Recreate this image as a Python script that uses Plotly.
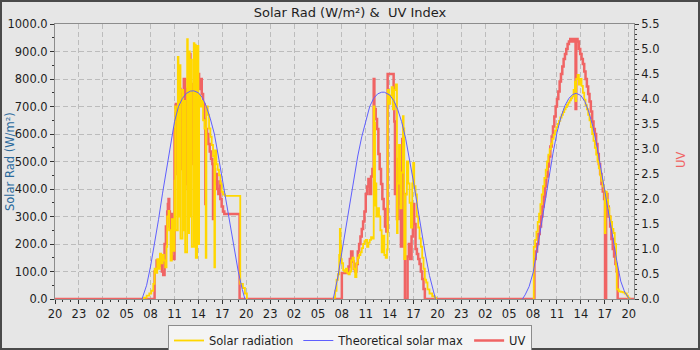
import plotly.graph_objects as go

# Calendar days covered by the chart (window runs from 20:00 the evening before)
DAYS = ["2024-09-18", "2024-09-19", "2024-09-20"]
X_START = "2024-09-17 20:00"
X_END = "2024-09-20 20:40"

# ---- Solar radiation (W/m²), change points per day ----
sr_day1_t = ["07:00", "07:10", "07:30", "07:50", "08:05", "08:20", "08:30", "08:40", "08:50", "09:00",
             "09:10", "09:20", "09:30", "09:40", "09:50", "10:00", "10:05", "10:15", "10:20", "10:30",
             "10:40", "10:50", "11:00", "11:05", "11:10", "11:25", "11:30", "11:40", "11:45", "12:00",
             "12:05", "12:15", "12:20", "12:35", "12:40", "12:50", "12:55", "13:05", "13:10", "13:25",
             "13:30", "13:35", "13:40", "13:50", "14:00", "14:05", "14:15", "14:25", "14:35", "14:45",
             "14:55", "15:00", "15:10", "15:20", "15:30", "15:40", "15:50", "16:00", "16:05", "16:15",
             "16:25", "16:35", "16:45", "16:55", "17:05", "17:20", "19:15", "19:35", "19:50", "20:05"]
sr_day1_v = [0, 5, 12, 20, 30, 55, 110, 95, 145, 110,
             165, 130, 160, 140, 115, 190, 300, 320, 250, 140,
             290, 175, 430, 700, 250, 880, 300, 850, 220, 760,
             250, 720, 170, 945, 240, 900, 300, 870, 190, 930,
             190, 925, 150, 920, 200, 740, 700, 720, 650, 620,
             150, 700, 670, 620, 590, 560, 520, 115, 540, 490,
             470, 450, 420, 390, 380, 375, 55, 40, 20, 0]

sr_day2_t = ["06:50", "06:58", "07:10", "07:20", "07:30", "07:40", "07:45", "07:50", "07:55", "08:00", "08:10",
             "08:20", "08:30", "08:40", "08:50", "09:00", "09:10", "09:20", "09:30", "09:40", "09:50",
             "10:00", "10:10", "10:20", "10:30", "10:40", "10:50", "11:00", "11:10", "11:20", "11:30",
             "11:40", "11:50", "12:00", "12:05", "12:10", "12:15", "12:20", "12:30", "12:40", "12:50",
             "13:00", "13:10", "13:20", "13:30", "13:40", "13:45", "13:55", "14:05", "14:15", "14:25",
             "14:35", "14:45", "14:55", "15:00", "15:10", "15:20", "15:30", "15:40", "15:45", "15:50",
             "16:00", "16:10", "16:20", "16:30", "16:40", "16:50", "16:57", "17:05", "17:15", "17:25",
             "17:35", "17:45", "17:55", "18:05", "18:15", "18:25", "18:35", "18:45", "19:00", "19:20",
             "19:40", "19:50"]
sr_day2_v = [0, 5, 30, 70, 90, 160, 255, 195, 145, 130, 105,
             100, 110, 95, 90, 100, 140, 150, 110, 80, 130,
             150, 160, 170, 185, 200, 210, 215, 190, 205, 215,
             225, 220, 700, 640, 340, 420, 300, 330, 300, 250,
             170, 230, 160, 150, 180, 760, 710, 740, 770, 690,
             760, 780, 240, 420, 560, 330, 460, 665, 620, 145,
             380, 500, 420, 350, 260, 420, 495, 410, 380, 300,
             260, 220, 190, 150, 110, 70, 60, 35, 20, 10,
             5, 0]

sr_day3_t = ["08:00", "08:05", "08:15", "08:25", "08:35", "08:45", "08:55", "09:05", "09:15", "09:25", "09:35",
             "09:45", "09:55", "10:05", "10:15", "10:25", "10:35", "10:45", "10:55", "11:05", "11:15",
             "11:25", "11:35", "11:45", "11:55", "12:05", "12:15", "12:25", "12:35", "12:45", "12:55",
             "13:05", "13:15", "13:20", "13:25", "13:35", "13:45", "13:55", "14:05", "14:15", "14:25",
             "14:35", "14:45", "14:55", "15:05", "15:15", "15:25", "15:35", "15:45", "15:55", "16:05",
             "16:15", "16:25", "16:35", "16:45", "16:55", "17:00", "17:05", "17:15", "17:25", "17:35",
             "17:45", "17:55", "18:05", "18:15", "18:25", "18:30", "18:45", "19:00", "19:15", "19:30",
             "19:45", "19:55", "20:05"]
sr_day3_v = [0, 190, 215, 245, 280, 310, 345, 380, 410, 440, 470,
             500, 525, 545, 565, 582, 598, 612, 625, 637, 648,
             660, 670, 680, 690, 698, 706, 714, 722, 730, 737,
             760, 790, 720, 800, 815, 780, 800, 775, 750, 725,
             705, 690, 670, 650, 625, 600, 575, 550, 525, 500,
             475, 450, 430, 410, 395, 240, 390, 360, 330, 300,
             280, 255, 240, 200, 120, 35, 28, 26, 24, 20,
             12, 5, 0]

# ---- Theoretical clear-sky maximum (W/m²) ----
tmax_day1_t = ["06:55", "07:30", "08:00", "08:30", "09:00", "09:30", "10:00", "10:30", "11:00", "11:30",
               "12:00", "12:30", "13:00", "13:25", "14:00", "14:30", "15:00", "15:30", "16:00", "16:30",
               "17:00", "17:30", "18:00", "18:30", "19:00", "19:30", "19:50"]
tmax_day1_v = [0, 50, 120, 200, 290, 385, 475, 565, 645, 700,
               730, 748, 756, 757, 750, 732, 700, 655, 600, 520,
               435, 345, 255, 175, 100, 35, 0]

tmax_day2_t = ["06:55", "07:30", "08:00", "08:30", "09:00", "09:30", "10:00", "10:30", "11:00", "11:30",
               "12:00", "12:30", "13:00", "13:20", "14:00", "14:30", "15:00", "15:30", "16:00", "16:30",
               "17:00", "17:30", "18:00", "18:30", "19:00", "19:30", "19:45"]
tmax_day2_v = [0, 80, 170, 260, 350, 440, 520, 590, 650, 700,
               730, 746, 752, 752, 742, 722, 690, 645, 585, 510,
               425, 335, 245, 160, 85, 25, 0]

tmax_day3_t = ["06:40", "07:00", "07:30", "08:00", "08:30", "09:00", "09:30", "10:00", "10:30", "11:00",
               "11:30", "12:00", "12:30", "13:00", "13:25", "14:00", "14:30", "15:00", "15:30", "16:00",
               "16:30", "17:00", "17:30", "18:00", "18:30", "19:00", "19:30", "20:05"]
tmax_day3_v = [0, 15, 45, 95, 175, 265, 355, 445, 530, 605,
               662, 703, 730, 744, 748, 740, 718, 680, 628, 560,
               480, 395, 310, 225, 140, 65, 25, 0]

# ---- UV index, change points per day ----
uv_day1_t = ["08:30", "08:45", "09:00", "09:15", "09:25", "09:35", "09:45", "09:55", "10:05", "10:10",
             "10:15", "10:20", "10:25", "10:30", "10:40", "10:50", "11:00", "11:10", "11:20", "11:25",
             "11:35", "11:45", "11:50", "12:00", "12:10", "12:20", "12:25", "12:35", "12:40", "12:48",
             "13:00", "13:10", "13:20", "13:30", "13:40", "13:55", "14:05", "14:15", "14:25", "14:35",
             "14:45", "14:52", "14:55", "15:05", "15:15", "15:25", "15:35", "15:45", "15:50", "15:55",
             "16:05", "16:10", "16:20", "16:30", "16:40", "16:45", "16:55", "17:05", "17:15", "19:10"]
uv_day1_v = [0.55, 0.77, 0.66, 0.75, 0.55, 0.48, 1.1, 1.45, 1.75, 1.9,
             2.0, 1.75, 1.4, 1.7, 0.85, 0.8, 3.4, 3.9, 2.5, 3.6,
             4.2, 2.6, 4.1, 3.6, 4.4, 2.3, 3.9, 4.2, 2.2, 4.9,
             3.7, 4.3, 2.7, 3.9, 4.4, 4.5, 4.2, 4.4, 4.1, 3.9,
             3.6, 1.9, 3.4, 3.3, 3.1, 2.95, 2.8, 2.7, 1.6, 2.6,
             2.3, 2.5, 2.2, 2.1, 2.35, 2.0, 1.85, 1.75, 1.7, 0]

uv_day2_t = ["08:00", "08:50", "09:00", "09:10", "09:20", "09:30", "09:40", "09:50", "10:00", "10:10",
             "10:20", "10:30", "10:40", "10:50", "11:00", "11:10", "11:20", "11:30", "11:40", "11:50",
             "12:00", "12:05", "12:15", "12:25", "12:35", "12:45", "12:55", "13:05", "13:15", "13:25",
             "13:35", "13:45", "14:30", "14:35", "14:40", "14:45", "14:55", "15:05", "15:15", "15:25",
             "15:35", "15:45", "15:55", "16:15", "16:25", "16:35", "16:45", "16:55", "17:05", "17:15",
             "17:25", "17:35", "17:45", "17:55", "18:05", "18:15", "18:25"]
uv_day2_v = [0.52, 0.65, 0.8, 0.95, 0.75, 0.6, 0.55, 0.7, 0.95, 1.1,
             1.25, 1.4, 1.55, 1.75, 2.1, 2.25, 2.4, 2.1, 2.45, 2.6,
             4.4, 3.8, 3.6, 3.4, 2.9, 2.6, 2.3, 2.0, 1.8, 1.45,
             1.35, 4.5, 3.9, 3.55, 2.1, 2.8, 1.6, 2.6, 1.9, 1.05,
             3.2, 2.1, 0, 0.85, 1.1, 0.8, 1.25, 1.9, 1.5, 1.0,
             0.9, 0.8, 0.7, 0.55, 0.4, 0.2, 0]

uv_day3_t = ["08:10", "08:20", "08:30", "08:40", "08:50", "09:00", "09:10", "09:20", "09:30", "09:40",
             "09:50", "10:00", "10:10", "10:20", "10:30", "10:40", "10:50", "11:00", "11:10", "11:20",
             "11:30", "11:40", "11:50", "12:00", "12:10", "12:20", "12:30", "12:40", "12:50", "13:00",
             "13:10", "13:20", "13:25", "13:35", "13:45", "13:55", "14:05", "14:15", "14:25", "14:35",
             "14:45", "14:55", "15:05", "15:15", "15:25", "15:35", "15:45", "15:55", "16:05", "16:15",
             "16:25", "16:35", "16:45", "16:55", "17:02", "17:10", "17:20", "17:30", "17:40", "17:50",
             "18:00", "18:10", "18:20", "18:30", "18:37"]
uv_day3_v = [0.8, 0.95, 1.1, 1.3, 1.45, 1.65, 1.85, 2.05, 2.25, 2.45,
             2.65, 2.85, 3.05, 3.25, 3.45, 3.65, 3.85, 4.0, 4.15, 4.35,
             4.5, 4.65, 4.8, 4.9, 5.0, 5.1, 5.15, 5.2, 5.15, 5.2,
             5.15, 3.8, 5.2, 5.15, 5.0, 4.9, 4.8, 4.7, 4.55, 4.4,
             4.25, 4.1, 3.95, 3.75, 3.55, 3.4, 3.3, 3.1, 2.9, 2.7,
             2.5, 2.3, 2.15, 2.0, 0, 2.1, 1.85, 1.65, 1.45, 1.2,
             1.0, 0.85, 0.7, 0.55, 0]

# Axis tick settings
X_TICK0 = "2024-09-17 20:00"
RAD_RANGE = [0, 1000]
UV_RANGE = [0, 5.5]


def build_daily(day_times, day_values):
    """Per-day segments, left open overnight."""
    xs, ys = [], []
    for date, ts, vs in zip(DAYS, day_times, day_values, strict=True):
        for t, v in zip(ts, vs, strict=True):
            xs.append(f"{date} {t}")
            ys.append(v)
        xs.append(None)
        ys.append(None)
    return xs, ys


def build_continuous(day_times, day_values):
    """One series that sits at zero overnight."""
    xs, ys = [X_START], [0]
    for date, ts, vs in zip(DAYS, day_times, day_values, strict=True):
        for t, v in zip(ts, vs, strict=True):
            xs.append(f"{date} {t}")
            ys.append(v)
    xs.append(X_END)
    ys.append(0)
    return xs, ys


sr_x, sr_y = build_daily([sr_day1_t, sr_day2_t, sr_day3_t], [sr_day1_v, sr_day2_v, sr_day3_v])
tm_x, tm_y = build_daily([tmax_day1_t, tmax_day2_t, tmax_day3_t], [tmax_day1_v, tmax_day2_v, tmax_day3_v])
uv_x, uv_y = build_continuous([uv_day1_t, uv_day2_t, uv_day3_t], [uv_day1_v, uv_day2_v, uv_day3_v])

FONT = "DejaVu Sans"
BG = "#e6e6e6"
GRID = "#bcbcbc"
AXIS = "#8c8c8c"
TXT = "#1e1e1e"
YELLOW = "#ffd700"
BLUE = "#5f5fff"
RED = "#f06464"

fig = go.Figure()
# UV lives on the base axis (drawn first, underneath); radiation on the overlaying axis above it
fig.add_trace(go.Scatter(x=uv_x, y=uv_y, mode="lines", name="UV", legendrank=3,
                         line=dict(color=RED, width=2.5, shape="hv"), yaxis="y"))
fig.add_trace(go.Scatter(x=sr_x, y=sr_y, mode="lines", name="Solar radiation", legendrank=1,
                         line=dict(color=YELLOW, width=1.8, shape="hv"), yaxis="y2", connectgaps=False))
fig.add_trace(go.Scatter(x=tm_x, y=tm_y, mode="lines", name="Theoretical solar max", legendrank=2,
                         line=dict(color=BLUE, width=1), yaxis="y2", connectgaps=False))

W, H = 700, 350
ML, MR, MT, MB = 55, 66, 24, 51
PW, PH = W - ML - MR, H - MT - MB


def px_to_paper_x(px):
    return (px - ML) / PW


def px_to_paper_y(py):
    return (H - MB - py) / PH


tickfont = dict(family=FONT, size=11.5, color=TXT)

fig.update_layout(
    width=W, height=H,
    margin=dict(l=ML, r=MR, t=MT, b=MB, pad=0, autoexpand=False),
    paper_bgcolor=BG, plot_bgcolor=BG,
    font=dict(family=FONT, size=11.5, color=TXT),
    title=dict(text="Solar Rad (W/m²) &  UV Index", x=0.5, xanchor="center",
               y=1 - 12 / H, yanchor="middle", yref="container",
               font=dict(family=FONT, size=13, color=TXT)),
    xaxis=dict(
        type="date", range=[X_START, X_END], tickformat="%H",
        tick0=X_TICK0, dtick=3 * 3600 * 1000,
        ticks="outside", ticklen=4, tickcolor="#333333", tickfont=tickfont,
        showgrid=True, gridcolor=GRID, griddash="5px,3px", gridwidth=1,
        showline=True, linecolor=AXIS, linewidth=1, mirror=True,
        zeroline=False, automargin=False,
        minor=dict(dtick=3600 * 1000, ticks="outside", ticklen=2, tickcolor="#333333", showgrid=False),
    ),
    # UV index scale on the right
    yaxis=dict(
        range=UV_RANGE, dtick=0.5, tick0=0, tickformat=".1f", side="right",
        ticks="outside", ticklen=4, tickcolor="#333333", tickfont=tickfont,
        showgrid=False, showline=True, linecolor=AXIS, linewidth=1,
        zeroline=False, automargin=False,
        minor=dict(dtick=0.1, ticks="outside", ticklen=2, tickcolor="#333333", showgrid=False),
    ),
    # Radiation scale on the left, carries the horizontal grid
    yaxis2=dict(
        range=RAD_RANGE, dtick=100, tick0=0, tickformat=".1f",
        overlaying="y", side="left",
        ticks="outside", ticklen=4, tickcolor="#333333", tickfont=tickfont,
        showgrid=True, gridcolor=GRID, griddash="5px,3px", gridwidth=1,
        showline=True, linecolor=AXIS, linewidth=1,
        zeroline=False, automargin=False,
        minor=dict(dtick=50, ticks="outside", ticklen=2, tickcolor="#333333", showgrid=False),
    ),
    showlegend=True,
    legend=dict(
        orientation="h", x=px_to_paper_x(350), xanchor="center",
        y=px_to_paper_y(325), yanchor="top",
        bgcolor="#f4f4f4", bordercolor="#8c8c8c", borderwidth=1,
        font=dict(family=FONT, size=11.5, color=TXT),
        itemwidth=30, traceorder="normal",
    ),
    annotations=[
        dict(text="Solar Rad (W/m²)", textangle=-90, xref="paper", yref="paper",
             x=px_to_paper_x(10), y=px_to_paper_y(162), xanchor="center", yanchor="middle",
             showarrow=False, font=dict(family=FONT, size=11.5, color="#2a6a9c")),
        dict(text="UV", textangle=-90, xref="paper", yref="paper",
             x=px_to_paper_x(681), y=px_to_paper_y(160), xanchor="center", yanchor="middle",
             showarrow=False, font=dict(family=FONT, size=11.5, color=RED)),
    ],
    shapes=[
        dict(type="rect", xref="paper", yref="paper", layer="above",
             x0=px_to_paper_x(0), x1=px_to_paper_x(W), y0=px_to_paper_y(H), y1=px_to_paper_y(0),
             line=dict(color="#4a4a4a", width=4), fillcolor="rgba(0,0,0,0)"),
    ],
)

fig.write_html("out.html")
